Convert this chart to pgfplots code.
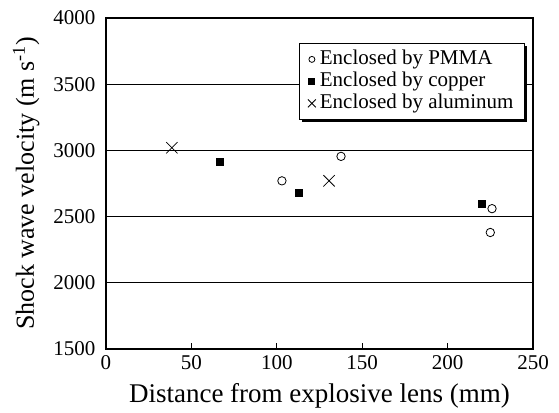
\documentclass[border=0pt]{standalone}
\usepackage{pgfplots}
\pgfplotsset{compat=1.18}
\usetikzlibrary{shadows}
\usepackage{fontspec}
\setmainfont{Liberation Serif}

\begin{document}
\begin{tikzpicture}
\begin{axis}[
    scale only axis,
    width=427pt, height=331pt,
    xmin=0, xmax=250, ymin=1500, ymax=4000,
    xtick={0,50,100,150,200,250},
    ytick={1500,2000,2500,3000,3500,4000},
    xtick pos=bottom, ytick pos=left,
    tick align=inside,
    major tick length=6pt,
    y tick style={draw=none},
    x tick style={black, line width=0.8pt},
    ymajorgrids,
    major grid style={black, line width=0.7pt},
    axis line style={line width=1.5pt},
    /pgf/number format/assume math mode=true,
    /pgf/number format/1000 sep={},
    tick label style={font=\fontsize{21}{24}\selectfont},
    yticklabel style={xshift=-7pt},
    xticklabel style={yshift=-3pt},
    xlabel style={font=\fontsize{27}{30}\selectfont, yshift=-7pt},
    ylabel style={font=\fontsize{26}{30}\selectfont, yshift=7pt},
    xlabel={Distance from explosive lens (mm)},
    ylabel={Shock wave velocity (m s\textsuperscript{-1})},
    legend cell align=left,
    legend style={at={(0.981,0.9245)}, anchor=north east,
        draw=black, line width=0.8pt, fill=white,
        drop shadow={shadow xshift=3pt, shadow yshift=-3pt, fill=black, opacity=1},
        font=\fontsize{21}{22}\selectfont,
        nodes={text height=15pt, text depth=5pt, inner ysep=1pt},
        inner xsep=9pt, inner ysep=5pt, row sep=0pt, column sep=2pt},
]
\addplot[only marks, mark=o, mark size=4.2pt, mark options={line width=0.8pt},
    legend image post style={mark size=3pt}] coordinates {
    (103,2770) (137.6,2955) (226,2560) (225,2380)
};
\addlegendentry{Enclosed by PMMA}
\addplot[only marks, mark=square*, mark size=3.4pt,
    legend image post style={mark size=3pt}] coordinates {
    (66.7,2917) (113,2680) (220,2600)
};
\addlegendentry{Enclosed by copper}
\addplot[only marks, mark=x, mark size=8pt, mark options={line width=0.8pt},
    legend image post style={mark size=5.6pt}] coordinates {
    (38.6,3020) (130.6,2770)
};
\addlegendentry{Enclosed by aluminum}
\coordinate (ll) at (rel axis cs:0,0);
\coordinate (ur) at (rel axis cs:1,1);
\end{axis}
\pgfresetboundingbox
\path ([shift={(-106pt,-63pt)}]ll) rectangle ([shift={(26pt,18pt)}]ur);
\end{tikzpicture}
\end{document}
